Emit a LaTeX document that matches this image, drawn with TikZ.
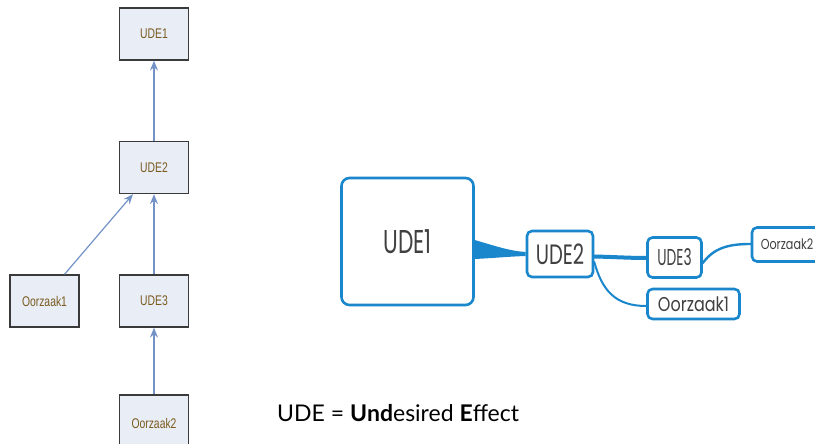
\documentclass[tikz,border=0pt]{standalone}
\usepackage{fontspec}
\usetikzlibrary{arrows.meta}
\newfontfamily\leftfont{Liberation Sans}
\newfontfamily\geofont{Poppins}
\newfontfamily\notefont{Lato}
\definecolor{lfill}{HTML}{E8EDF6}
\definecolor{lborder}{HTML}{3A3A3A}
\definecolor{ltext}{HTML}{7A5A1E}
\definecolor{larrow}{HTML}{7392C6}
\definecolor{mblue}{HTML}{1A86CC}
\begin{document}
\begin{tikzpicture}[x=1pt,y=-1pt,
  lbox/.style={draw=lborder,line width=1.3pt,fill=lfill,minimum width=69pt,minimum height=52pt,inner sep=0pt,
    font=\leftfont\fontsize{14}{14}\selectfont,text=ltext},
  larr/.style={draw=larrow,line width=1.2pt,-{Stealth[length=10pt,width=8pt,inset=3.5pt]}},
  mbox/.style={draw=mblue,line width=2.6pt,rounded corners=5pt,fill=white,inner sep=0pt,text=black!75},
  mline/.style={draw=mblue,line cap=round}
]
\useasboundingbox (0,0) rectangle (815,444);
% left diagram
\node[lbox] (lu1) at (154,34) {\scalebox{0.74}[1]{UDE1}};
\node[lbox] (lu2) at (154,167.5) {\scalebox{0.74}[1]{UDE2}};
\node[lbox] (lo1) at (44.5,301) {\scalebox{0.74}[1]{Oorzaak1}};
\node[lbox] (lu3) at (154,301) {\scalebox{0.74}[1]{UDE3}};
\node[lbox,minimum height=56pt] (lo2) at (154,423) {\scalebox{0.74}[1]{Oorzaak2}};
\draw[larr] (lu2.north) -- (lu1.south);
\draw[larr] (lu3.north) -- (lu2.south);
\draw[larr] (lo2.north) -- (lu3.south);
\coordinate (lu2b) at ([xshift=-21pt]lu2.south);
\draw[larr] ([xshift=20pt]lo1.north) -- (lu2b);
% right diagram
\node[mbox,rounded corners=8pt,minimum width=132pt,minimum height=127pt] (ru1) at (407.5,241.5)
  {\geofont\fontsize{33}{33}\selectfont\scalebox{0.66}[1]{UDE1}};
\node[mbox,minimum width=66pt,minimum height=46pt] (ru2) at (560,254)
  {\geofont\fontsize{28}{28}\selectfont\scalebox{0.7}[1]{UDE2}};
\node[mbox,minimum width=54pt,minimum height=40pt] (ru3) at (674.5,257.5)
  {\geofont\fontsize{23}{23}\selectfont\scalebox{0.6}[1]{UDE3}};
\node[mbox,minimum width=92pt,minimum height=30pt] (ro1) at (693.5,304)
  {\geofont\fontsize{20}{20}\selectfont\scalebox{0.8}[1]{Oorzaak1}};
\node[mbox,minimum width=70pt,minimum height=34pt] (ro2) at (787,244.5)
  {\geofont\fontsize{14.5}{14.5}\selectfont\scalebox{0.77}[1]{Oorzaak2}};
% connectors
\fill[mblue] (ru1.east |- 0,240)
  .. controls (495,246) and (510,251) .. (ru2.west |- 0,252)
  -- (ru2.west |- 0,256)
  .. controls (510,256.5) and (495,258) .. (ru1.east |- 0,259) -- cycle;
\draw[mline,line width=4pt] (ru2.east |- 0,256.5) .. controls (615,257) and (630,258) .. (ru3.west |- 0,258);
\draw[mline,line width=2.4pt] (ru3.east |- 0,263) .. controls (714,248) and (728,244) .. (ro2.west |- 0,244);
\draw[mline,line width=2pt] (ru2.east |- 0,262) .. controls (602,290) and (615,306) .. (ro1.west |- 0,306);
% note
\node[anchor=base west,inner sep=0pt,font=\notefont\fontsize{23}{23}\selectfont] (note) at (277,421)
  {UDE = \textbf{U}\textbf{nd}esired \textbf{E}ffect};
\end{tikzpicture}
\end{document}
